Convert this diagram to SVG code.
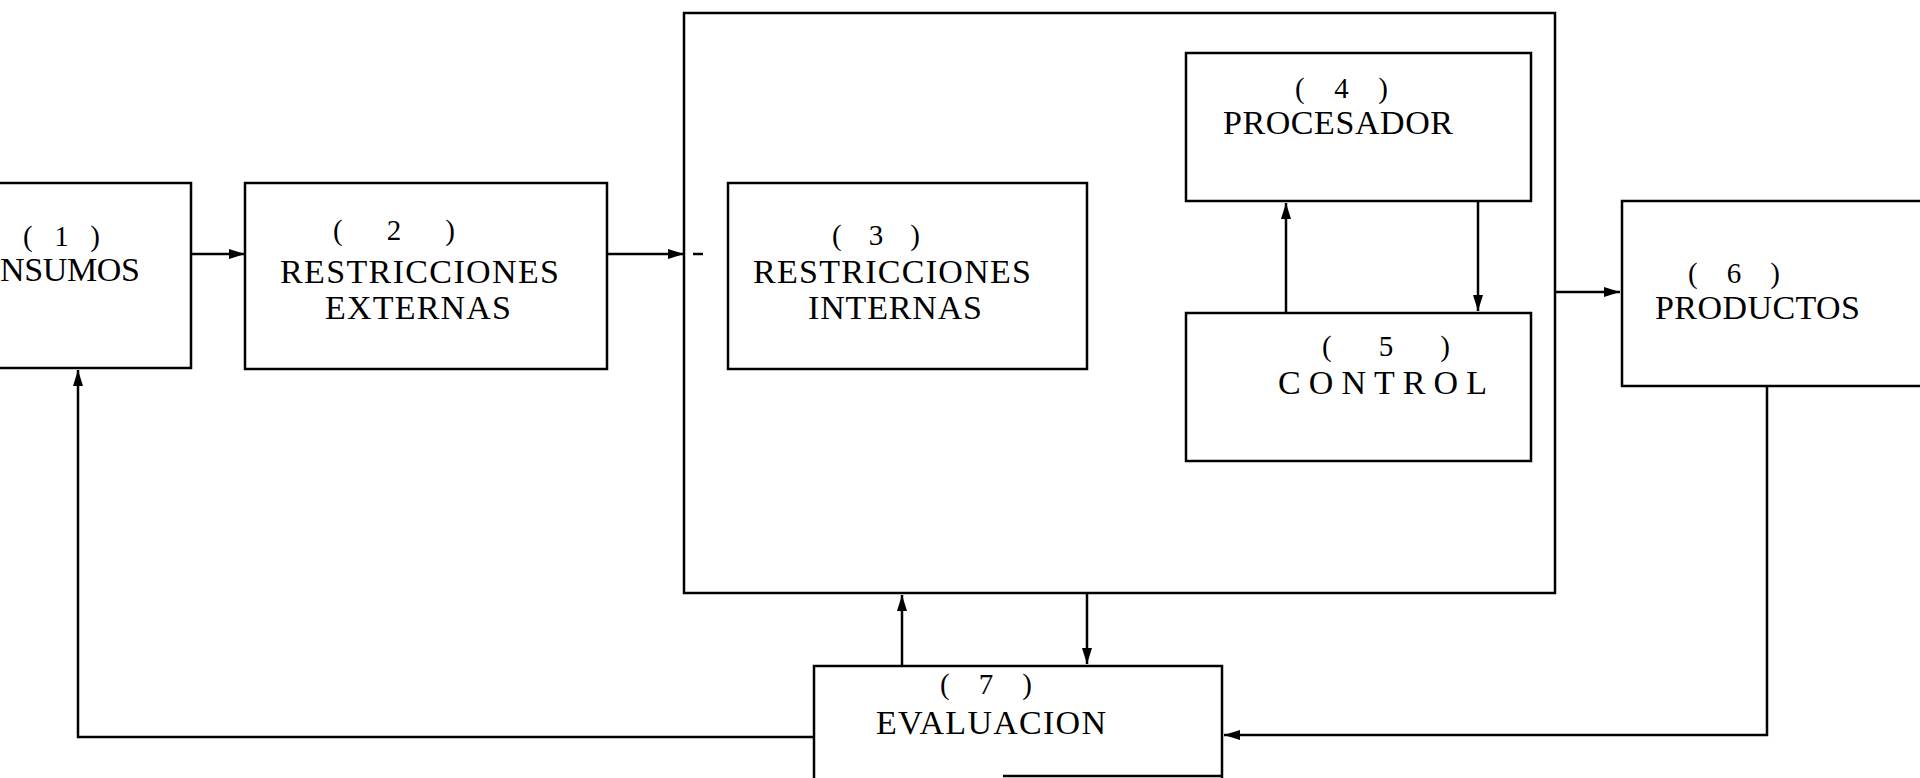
<svg xmlns="http://www.w3.org/2000/svg" width="1920" height="778" viewBox="0 0 1920 778">
<style>
  .box { fill: none; stroke: #000; stroke-width: 2.5; }
  .con { fill: none; stroke: #000; stroke-width: 2.5; }
  .lbl { font-family: "Liberation Serif", "Times New Roman", serif; font-size: 34px; fill: #000; }
  .num { font-family: "Liberation Serif", "Times New Roman", serif; font-size: 29px; fill: #000; }
</style>
<defs>
  <marker id="arr" markerUnits="userSpaceOnUse" markerWidth="18" markerHeight="12" refX="16" refY="6" orient="auto">
    <path d="M0,1 L16,6 L0,11 z" fill="#000"/>
  </marker>
</defs>
<rect x="0" y="0" width="1920" height="778" fill="#fff"/>

<g id="node-sistema">
  <rect class="box" x="684" y="13" width="871" height="580"/>
</g>

<g id="node-1">
  <rect class="box" x="-20" y="183" width="211" height="185"/>
  <text class="num" x="23" y="246" textLength="77" lengthAdjust="spacing">( 1 )</text>
  <text class="lbl" x="0" y="281" textLength="140" lengthAdjust="spacing">NSUMOS</text>
</g>

<g id="node-2">
  <rect class="box" x="245" y="183" width="362" height="186"/>
  <text class="num" x="333" y="240" textLength="122" lengthAdjust="spacing">( 2 )</text>
  <text class="lbl" x="280" y="283" textLength="279" lengthAdjust="spacing">RESTRICCIONES</text>
  <text class="lbl" x="325" y="319" textLength="186" lengthAdjust="spacing">EXTERNAS</text>
</g>

<g id="node-3">
  <rect class="box" x="728" y="183" width="359" height="186"/>
  <text class="num" x="832" y="245" textLength="88" lengthAdjust="spacing">( 3 )</text>
  <text class="lbl" x="753" y="283" textLength="278" lengthAdjust="spacing">RESTRICCIONES</text>
  <text class="lbl" x="808" y="319" textLength="174" lengthAdjust="spacing">INTERNAS</text>
</g>

<g id="node-4">
  <rect class="box" x="1186" y="53" width="345" height="148"/>
  <text class="num" x="1295" y="98" textLength="93" lengthAdjust="spacing">( 4 )</text>
  <text class="lbl" x="1223" y="134" textLength="230" lengthAdjust="spacing">PROCESADOR</text>
</g>

<g id="node-5">
  <rect class="box" x="1186" y="313" width="345" height="148"/>
  <text class="num" x="1322" y="356" textLength="128" lengthAdjust="spacing">( 5 )</text>
  <text class="lbl" x="1278" y="394" textLength="209" lengthAdjust="spacing">CONTROL</text>
</g>

<g id="node-6">
  <rect class="box" x="1622" y="201" width="330" height="185"/>
  <text class="num" x="1688" y="283" textLength="92" lengthAdjust="spacing">( 6 )</text>
  <text class="lbl" x="1655" y="319" textLength="205" lengthAdjust="spacing">PRODUCTOS</text>
</g>

<g id="node-7">
  <path class="box" d="M814,778 L814,666 L1222,666 L1222,778"/>
  <path class="box" d="M1003,776 L1222,776"/>
  <text class="num" x="940" y="694" textLength="92" lengthAdjust="spacing">( 7 )</text>
  <text class="lbl" x="876" y="734" textLength="230" lengthAdjust="spacing">EVALUACION</text>
</g>

<g id="connectors">
  <path class="con" d="M191,254 L245,254" marker-end="url(#arr)"/>
  <path class="con" d="M607,254 L684,254" marker-end="url(#arr)"/>
  <path class="con" d="M693,254 L703,254" stroke-width="1.5"/>
  <path class="con" d="M1555,292 L1620,292" marker-end="url(#arr)"/>
  <path class="con" d="M1286,313 L1286,203" marker-end="url(#arr)"/>
  <path class="con" d="M1478,201 L1478,311" marker-end="url(#arr)"/>
  <path class="con" d="M902,666 L902,595" marker-end="url(#arr)"/>
  <path class="con" d="M1087,593 L1087,664" marker-end="url(#arr)"/>
  <path class="con" d="M1767,386 L1767,735 L1224,735" marker-end="url(#arr)"/>
  <path class="con" d="M814,737 L78,737 L78,370" marker-end="url(#arr)"/>
</g>
</svg>
